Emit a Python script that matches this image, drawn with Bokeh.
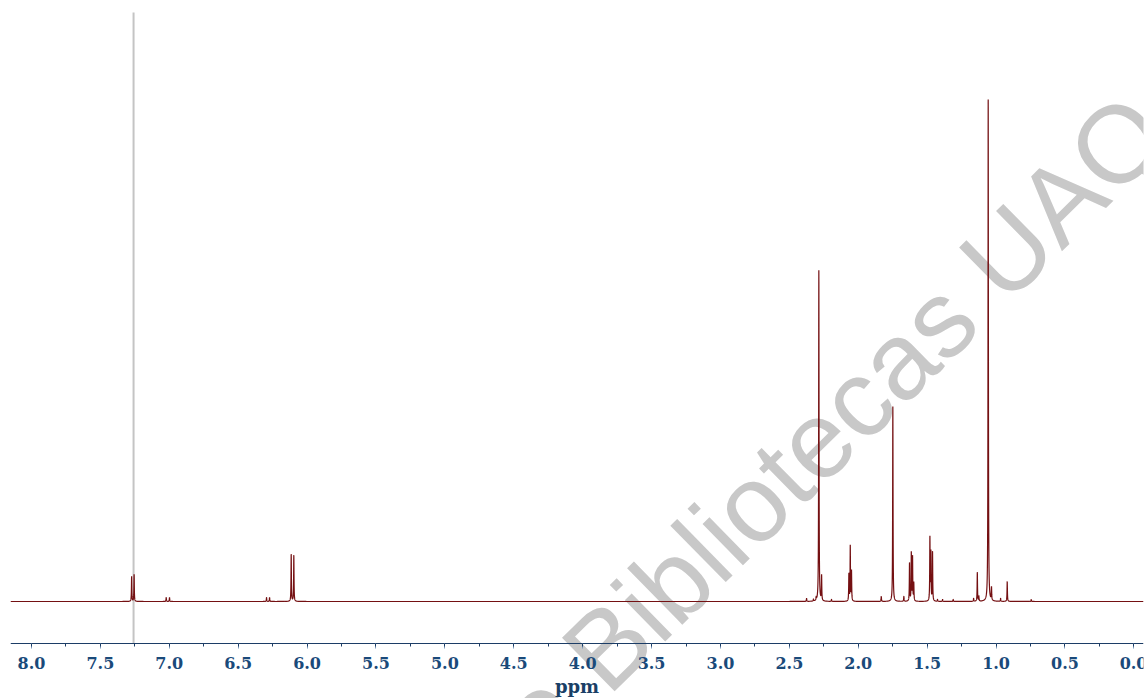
import numpy as np
from bokeh.plotting import figure
from bokeh.models import Range1d, SingleIntervalTicker, NumeralTickFormatter, Label, ColumnDataSource
from bokeh.embed import file_html
from bokeh.resources import INLINE

# ---- data (ppm, peak height in px above baseline) ----
peak_ppm = [7.273, 7.255, 7.022, 6.998, 6.294, 6.272, 6.115, 6.096,
            2.375, 2.325, 2.305, 2.286, 2.266, 2.194,
            2.068, 2.058, 2.049, 1.833, 1.749, 1.669,
            1.628, 1.615, 1.606, 1.597,
            1.480, 1.473, 1.461, 1.425, 1.388, 1.311,
            1.163, 1.136, 1.125, 1.057, 1.033, 0.967, 0.919, 0.745]
peak_height = [25, 27, 4, 4, 4, 4, 47, 46,
               3, 2, 3, 331, 25, 2,
               27, 55, 30, 5, 195, 5,
               38, 48, 44, 18,
               63, 48, 49, 2, 2, 2,
               3, 29, 5, 502, 13, 3, 20, 2]
solvent_ppm = 7.259
watermark_main = "Bibliotecas UAQ"
watermark_pre = "Dirección General de"

X_START, X_END = 8.152, -0.070
Y_START, Y_END = -97, 593
AXIS_Y = -42
HWHM = 0.0016

grid = np.concatenate([np.linspace(X_START, X_END, 24000), np.array(peak_ppm)])
grid = np.sort(grid)[::-1]
c = np.array(peak_ppm)[:, None]
h = np.array(peak_height, dtype=float)[:, None]
spec = (h * HWHM**2 / ((grid[None, :] - c) ** 2 + HWHM**2)).sum(axis=0)

p = figure(width=1147, height=698, output_backend="svg", toolbar_location=None,
           x_range=Range1d(X_START, X_END), y_range=Range1d(Y_START, Y_END),
           min_border_left=10, min_border_right=4, min_border_top=8, min_border_bottom=0)
p.outline_line_color = None
p.grid.visible = False
p.yaxis.visible = False

wm_font = "Liberation Sans"
wm_angle = 0.777
wm1 = Label(x=4.008, y=-69, text=watermark_main, angle=wm_angle, text_font=wm_font,
            text_font_size="109px", text_color="#c8c8c8", text_align="left",
            text_baseline="alphabetic", level="underlay")
wm2 = Label(x=4.163, y=-90.2, text=watermark_pre, angle=wm_angle, text_font=wm_font,
            text_font_size="109px", text_color="#c8c8c8", text_align="right",
            text_baseline="alphabetic", level="underlay")
p.add_layout(wm1)
p.add_layout(wm2)

p.segment(x0=[solvent_ppm], y0=[589], x1=[solvent_ppm], y1=[AXIS_Y],
          line_color="#c4c4c4", line_width=2)
src = ColumnDataSource(dict(x=grid, y=spec))
p.line("x", "y", source=src, line_color="#741012", line_width=1.2)

ax = p.xaxis[0]
ax.fixed_location = AXIS_Y
ax.ticker = SingleIntervalTicker(interval=0.5, num_minor_ticks=2)
ax.formatter = NumeralTickFormatter(format="0.0")
ax.axis_line_color = "#1c3d66"
ax.axis_line_width = 1.2
ax.major_tick_line_color = "#7f9cbc"
ax.major_tick_out = 5
ax.major_tick_in = 0
ax.minor_tick_line_color = "#1c3d66"
ax.minor_tick_out = 3
ax.minor_tick_in = 0
ax.major_label_text_font = "DejaVu Serif"
ax.major_label_text_font_style = "bold"
ax.major_label_text_font_size = "16px"
ax.major_label_text_color = "#1a4a7a"
ax.major_label_standoff = 8
ax.axis_label = "ppm"
ax.axis_label_text_font = "DejaVu Serif"
ax.axis_label_text_font_style = "bold"
ax.axis_label_text_font_size = "18px"
ax.axis_label_text_color = "#1a3f66"
ax.axis_label_standoff = 4

open("out.html", "w").write(file_html(p, INLINE))
